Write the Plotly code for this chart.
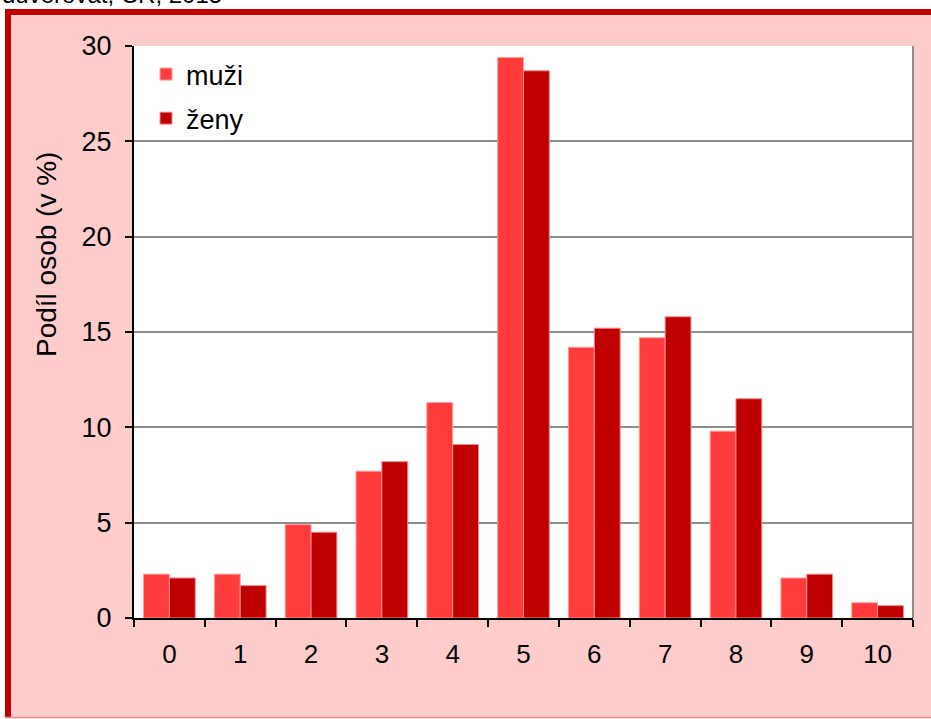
import plotly.graph_objects as go

categories = ["0", "1", "2", "3", "4", "5", "6", "7", "8", "9", "10"]
muzi = [2.3, 2.3, 4.9, 7.7, 11.3, 29.4, 14.2, 14.7, 9.8, 2.1, 0.8]
zeny = [2.1, 1.7, 4.5, 8.2, 9.1, 28.7, 15.2, 15.8, 11.5, 2.3, 0.65]
y_ticks = [0, 5, 10, 15, 20, 25, 30]
series_names = ["muži", "ženy"]
y_title = "Podíl osob (v %)"
top_text = "důvěřovat, ČR, 2015"

W, H = 931, 719
L, R, T, B = 134, 913, 46, 618


def px(x):
    return (x - L) / (R - L)


def py(y):
    return (B - y) / (B - T)


FONT = "Liberation Sans, Arial, sans-serif"

fig = go.Figure()
fig.add_trace(go.Bar(x=categories, y=muzi, name=series_names[0], legendgroup="a",
                     marker=dict(color="#FF3B3B", line=dict(color="#FF9C9C", width=1))))
fig.add_trace(go.Bar(x=categories, y=zeny, name=series_names[1], legendgroup="b",
                     marker=dict(color="#C00000", line=dict(color="#F08C8C", width=1))))

shapes = [
    # pink box
    dict(type="rect", xref="paper", yref="paper", x0=px(5), x1=px(960), y0=py(718), y1=py(9),
         fillcolor="#FFCCCC", line=dict(width=0), layer="below"),
    # plot area white
    dict(type="rect", xref="paper", yref="paper", x0=0, x1=1, y0=0, y1=1,
         fillcolor="white", line=dict(width=0), layer="below"),
    # borders of box
    dict(type="line", xref="paper", yref="paper", x0=px(8), x1=px(8), y0=py(718), y1=py(9),
         line=dict(color="#C00000", width=6)),
    dict(type="line", xref="paper", yref="paper", x0=px(5), x1=px(960), y0=py(12), y1=py(12),
         line=dict(color="#C00000", width=6)),
    dict(type="line", xref="paper", yref="paper", x0=px(5), x1=px(960), y0=py(717.5), y1=py(717.5),
         line=dict(color="#F08C8C", width=1.5)),
    # right border of plot area
    dict(type="line", xref="paper", yref="paper", x0=1, x1=1, y0=0, y1=1,
         line=dict(color="#8C8C8C", width=2)),
]

annotations = [
    dict(text=y_title, xref="paper", yref="paper", x=px(46), y=py(255), textangle=-90,
         showarrow=False, font=dict(family=FONT, size=28, color="black"),
         xanchor="center", yanchor="middle"),
    dict(text=top_text, xref="paper", yref="paper", x=px(0), y=py(10), showarrow=False,
         xanchor="left", yanchor="bottom", font=dict(family=FONT, size=24, color="black")),
]

fig.update_layout(
    width=W, height=H,
    margin=dict(l=L, r=W - R, t=T, b=H - B, pad=0),
    paper_bgcolor="white",
    plot_bgcolor="white",
    barmode="group",
    bargap=0.27,
    bargroupgap=0,
    font=dict(family=FONT, size=26, color="black"),
    shapes=shapes,
    annotations=annotations,
    showlegend=True,
    legend=dict(x=px(146), y=py(50), xanchor="left", yanchor="top",
                bgcolor="rgba(0,0,0,0)", font=dict(family=FONT, size=27, color="black"),
                tracegroupgap=6, itemwidth=30),
    xaxis=dict(
        type="category", range=[-0.5, 10.5], showline=True, linecolor="black", linewidth=2,
        ticks="outside", tickson="boundaries", ticklen=7, tickwidth=2, tickcolor="black",
        showgrid=False, ticklabelstandoff=12, tickfont=dict(family=FONT, size=26),
    ),
    yaxis=dict(
        range=[0, 30], tickvals=y_ticks, showline=True, linecolor="black", linewidth=2,
        ticks="outside", ticklen=7, tickwidth=2, tickcolor="black",
        showgrid=True, gridcolor="#8C8C8C", gridwidth=2, zeroline=False,
        ticklabelstandoff=8, tickfont=dict(family=FONT, size=27),
    ),
)

fig.write_html("out.html", config={"displayModeBar": False},
               post_script="document.body.style.margin='0px';document.body.style.overflow='hidden';")
